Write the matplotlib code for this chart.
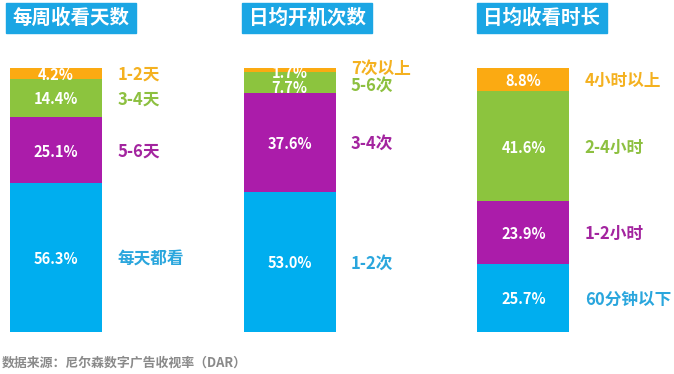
import matplotlib
matplotlib.use("Agg")
import matplotlib.pyplot as plt
from matplotlib.patches import Rectangle

plt.rcParams['font.family'] = ['Noto Sans CJK SC', 'DejaVu Sans']

titles = ['每周收看天数', '日均开机次数', '日均收看时长']
cats_days = ['每天都看', '5-6天', '3-4天', '1-2天']
vals_days = [56.3, 25.1, 14.4, 4.2]
cats_boot = ['1-2次', '3-4次', '5-6次', '7次以上']
vals_boot = [53.0, 37.6, 7.7, 1.7]
cats_time = ['60分钟以下', '1-2小时', '2-4小时', '4小时以上']
vals_time = [25.7, 23.9, 41.6, 8.8]
source = '数据来源：尼尔森数字广告收视率（DAR）'

groups = [(cats_days, vals_days), (cats_boot, vals_boot), (cats_time, vals_time)]
seg_colors = ['#00AEEF', '#AB1CAA', '#8CC43E', '#FBAA12']
lab_colors = ['#2AA6DD', '#A3249F', '#8DC040', '#F4B120']
title_bg = '#1BA6E4'

W, H = 674, 374
fig = plt.figure(figsize=(W / 100, H / 100), dpi=100)

# axes: bars bottom at y=332px, top at y=68px
ax = fig.add_axes([0, (H - 332) / H, 1, 264 / H])
spacing = 233.75
x0 = 56
ax.set_xlim((0 - x0) / spacing, (W - x0) / spacing)
ax.set_ylim(0, 100)
ax.axis('off')
bar_w = 92 / spacing

# small label nudges (points) for crowded segments
pct_nudge = {(1, 2): -3, (1, 3): -1}
lab_nudge = {(1, 2): -1, (1, 3): 2}

for gi, (cats, vals) in enumerate(groups):
    bottom = 0
    for si, (c, v) in enumerate(zip(cats, vals)):
        ax.bar(gi, v, bottom=bottom, width=bar_w, color=seg_colors[si], linewidth=0)
        yc = bottom + v / 2
        ax.annotate(f'{v:.1f}%', (gi, yc), xytext=(0, pct_nudge.get((gi, si), 0) - 1),
                    textcoords='offset points', ha='center', va='center',
                    color='white', fontsize=10.5, fontweight='bold')
        ax.annotate(c, (gi + bar_w / 2, yc), xytext=(11, lab_nudge.get((gi, si), 0) - 1),
                    textcoords='offset points', ha='left', va='center',
                    color=lab_colors[si], fontsize=12, fontweight='bold')
        bottom += v

# title boxes
box_lefts = [6, 242, 477]
for t, bl in zip(titles, box_lefts):
    fig.patches.append(Rectangle((bl / W, (H - 33) / H), 130 / W, 30 / H,
                                 transform=fig.transFigure, color=title_bg, zorder=0))
    fig.text((bl + 65) / W, (H - 18.5) / H, t, ha='center', va='center',
             color='white', fontsize=14, fontweight='bold')

fig.text(2 / W, (H - 363) / H, source, ha='left', va='center',
         color='#8A8A8A', fontsize=9.3, fontweight='bold')

fig.savefig('out.png', dpi=100)
